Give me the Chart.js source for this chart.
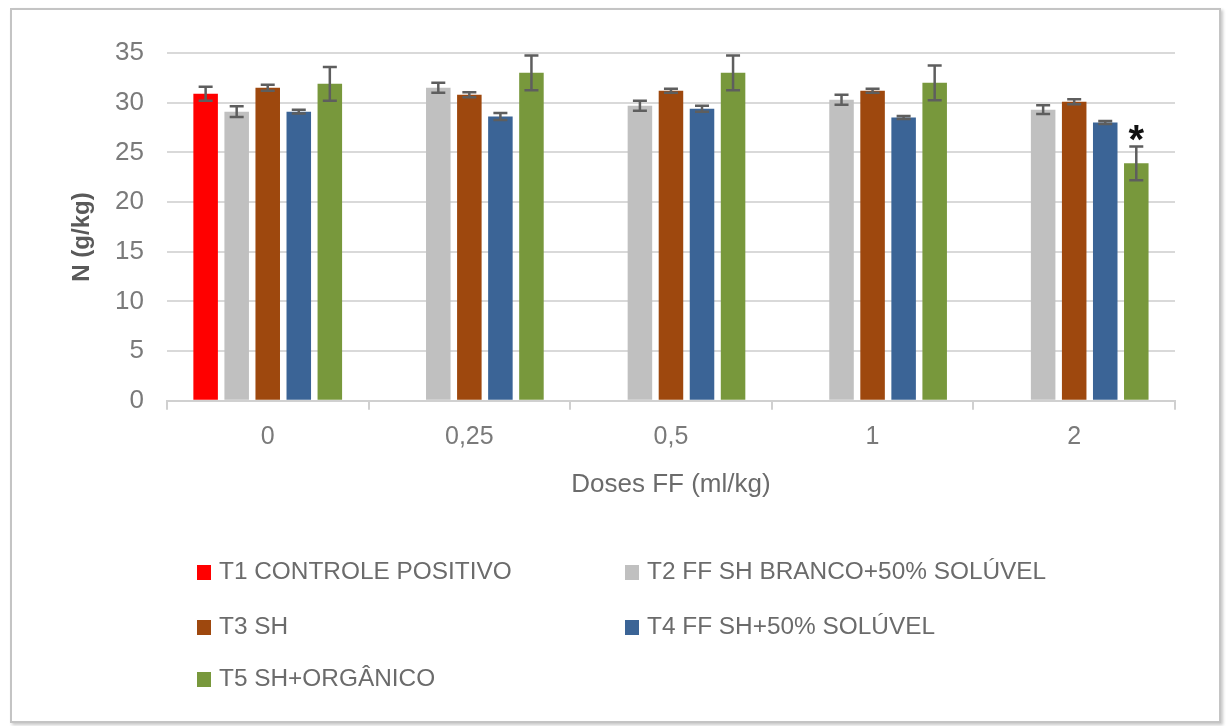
<!DOCTYPE html>
<html>
<head>
<meta charset="utf-8">
<script src="https://cdn.jsdelivr.net/npm/chart.js@4.4.1/dist/chart.umd.min.js"></script>
<style>
  html, body { margin: 0; padding: 0; background: #fff; }
  #wrap { position: relative; width: 1226px; height: 726px; overflow: hidden; font-family: "Liberation Sans", Arial, sans-serif; }
  #frame { position: absolute; left: 10px; top: 8px; width: 1207px; height: 711px; border: 2px solid #c4c4c4; box-shadow: 2px 2px 3px rgba(0,0,0,0.22); }
  #myChart { position: absolute; left: 0; top: 0; }
  .item { position: absolute; height: 30px; line-height: 30px; font-size: 24.4px; color: #6b6b6b; white-space: nowrap; }
  .item span.box { display: inline-block; width: 14px; height: 15px; margin-right: 8px; vertical-align: -1px; }
</style>
</head>
<body>
<div id="wrap">
  <div id="frame"></div>
  <canvas id="myChart" width="1226" height="726"></canvas>
  <div id="legend"></div>
</div>
<script>
// Categories (doses)
const doses = ["0", "0,25", "0,5", "1", "2"];

// Series names and colours
const seriesNames = [
  "T1 CONTROLE POSITIVO",
  "T2 FF SH BRANCO+50% SOLÚVEL",
  "T3 SH",
  "T4 FF SH+50% SOLÚVEL",
  "T5 SH+ORGÂNICO",
];
const seriesColors = ["#ff0000", "#c0c0c0", "#9e480e", "#3b6496", "#78983c"];

// Values (N g/kg)
const t1 = [30.9, null, null, null, null];
const t2 = [29.1, 31.5, 29.7, 30.3, 29.3];
const t3 = [31.5, 30.8, 31.2, 31.2, 30.1];
const t4 = [29.1, 28.6, 29.4, 28.5, 28.0];
const t5 = [31.9, 33.0, 33.0, 32.0, 23.9];

// Error bar half-widths
const t1Err = [0.7, null, null, null, null];
const t2Err = [0.55, 0.5, 0.5, 0.5, 0.45];
const t3Err = [0.3, 0.25, 0.2, 0.2, 0.25];
const t4Err = [0.2, 0.35, 0.3, 0.15, 0.15];
const t5Err = [1.7, 1.75, 1.75, 1.75, 1.7];

// Significance marks above bars
const t5Marks = ["", "", "", "", "*"];

// Y axis ticks and titles
const yMin = 0;
const yMax = 35;
const yStep = 5;
const yTitle = "N (g/kg)";
const xTitle = "Doses FF (ml/kg)";

const allValues = [t1, t2, t3, t4, t5];
const allErrors = [t1Err, t2Err, t3Err, t4Err, t5Err];
const allMarks = [null, null, null, null, t5Marks];

const datasets = seriesNames.map((name, i) => ({
  label: name,
  data: allValues[i],
  errors: allErrors[i],
  marks: allMarks[i],
  backgroundColor: seriesColors[i],
  borderWidth: 0,
  categoryPercentage: 0.77,
  barPercentage: 0.79,
}));

// Plugin to draw error bars and the asterisk
const errorBars = {
  id: "errorBars",
  afterDatasetsDraw(chart) {
    const c = chart.ctx;
    const yScale = chart.scales.y;
    chart.data.datasets.forEach((ds, i) => {
      const meta = chart.getDatasetMeta(i);
      meta.data.forEach((bar, j) => {
        const v = ds.data[j];
        const e = ds.errors[j];
        if (v == null || e == null) return;
        const top = yScale.getPixelForValue(v + e);
        const bot = yScale.getPixelForValue(v - e);
        c.save();
        c.strokeStyle = "#5e5e5e";
        c.lineWidth = 2.5;
        c.beginPath();
        c.moveTo(bar.x, top);
        c.lineTo(bar.x, bot);
        c.moveTo(bar.x - 7, top);
        c.lineTo(bar.x + 7, top);
        c.moveTo(bar.x - 7, bot);
        c.lineTo(bar.x + 7, bot);
        c.stroke();
        if (ds.marks && ds.marks[j]) {
          c.fillStyle = "#111";
          c.font = "bold 40px 'Liberation Sans', Arial, sans-serif";
          c.textAlign = "center";
          c.textBaseline = "alphabetic";
          c.fillText(ds.marks[j], bar.x, top + 7);
        }
        c.restore();
      });
    });
  },
};

// Y axis title drawn a bit below the centre, like the original
const yTitlePlugin = {
  id: "yTitlePlugin",
  afterDraw(chart) {
    const c = chart.ctx;
    c.save();
    c.translate(82, 237);
    c.rotate(-Math.PI / 2);
    c.fillStyle = "#595959";
    c.font = "bold 24px 'Liberation Sans', Arial, sans-serif";
    c.textAlign = "center";
    c.textBaseline = "middle";
    c.fillText(yTitle, 0, 0);
    c.restore();
  },
};

const ctx = document.getElementById("myChart");

const config = {
  type: "bar",
  data: { labels: doses, datasets: datasets },
  options: {
    responsive: false,
    animation: false,
    layout: { padding: { top: 53, right: 51, bottom: 226, left: 92 } },
    plugins: {
      legend: { display: false },
      tooltip: { enabled: false },
    },
    scales: {
      x: {
        grid: {
          drawOnChartArea: false,
          drawTicks: true,
          tickLength: 9,
          color: "#d0d0d0",
          lineWidth: 2,
          offset: true,
        },
        border: { display: true, color: "#d0d0d0", width: 2 },
        ticks: {
          font: { family: "'Liberation Sans', Arial, sans-serif", size: 25 },
          color: "#7a7a7a",
          padding: 12,
        },
        title: {
          display: true,
          text: xTitle,
          font: { family: "'Liberation Sans', Arial, sans-serif", size: 26 },
          color: "#6b6b6b",
          padding: { top: 5, bottom: 0 },
        },
      },
      y: {
        min: yMin,
        max: yMax,
        ticks: {
          stepSize: yStep,
          font: { family: "'Liberation Sans', Arial, sans-serif", size: 26 },
          color: "#7a7a7a",
          padding: 23,
        },
        grid: { color: "#d9d9d9", lineWidth: 2, drawTicks: false },
        border: { display: false },
      },
    },
  },
  plugins: [errorBars, yTitlePlugin],
};

const myChart = new Chart(ctx, config);

// Legend in two columns, built from the series arrays
const legendPos = [
  [197, 556], [625, 556],
  [197, 611], [625, 611],
  [197, 663],
];
const legendBox = document.getElementById("legend");
seriesNames.forEach((name, i) => {
  const item = document.createElement("div");
  item.className = "item";
  item.style.left = legendPos[i][0] + "px";
  item.style.top = legendPos[i][1] + "px";
  const box = document.createElement("span");
  box.className = "box";
  box.style.background = seriesColors[i];
  item.appendChild(box);
  item.appendChild(document.createTextNode(name));
  legendBox.appendChild(item);
});
</script>
</body>
</html>
